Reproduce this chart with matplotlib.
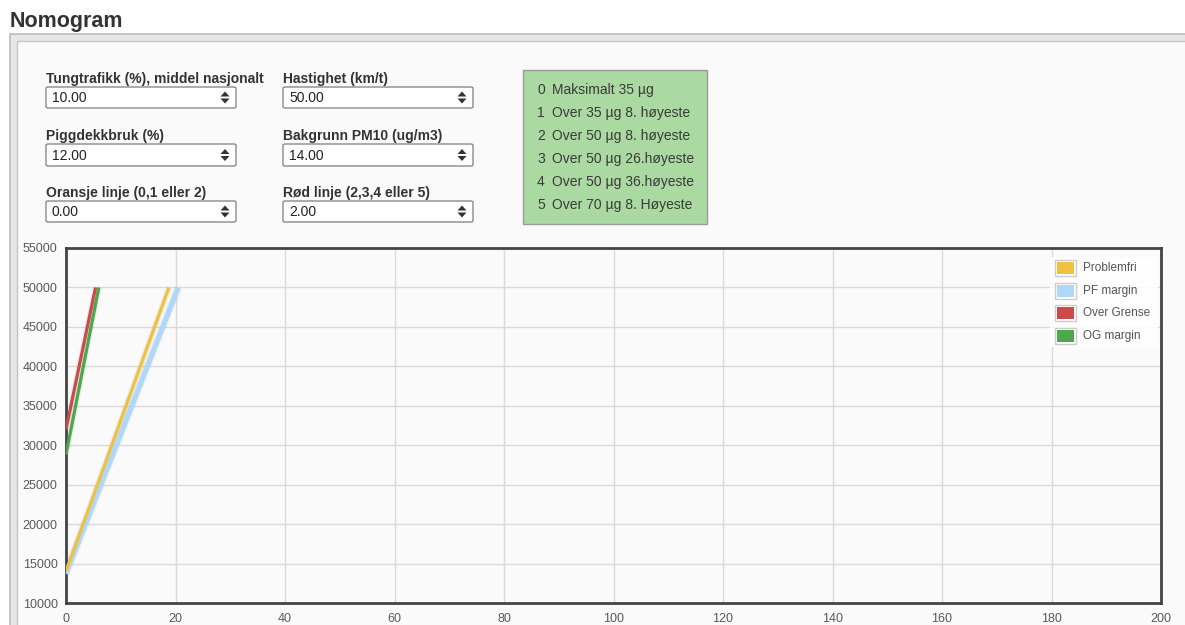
import matplotlib
matplotlib.use("Agg")
import matplotlib.pyplot as plt
from matplotlib.patches import Rectangle, FancyBboxPatch, Polygon

W, H = 1185, 625
plt.rcParams['font.family'] = ['Liberation Sans', 'DejaVu Sans']

# ---- data ----
series_names = ["Problemfri", "PF margin", "Over Grense", "OG margin"]
series_colors = ["#edc240", "#afd8f8", "#cb4b4b", "#4da74d"]
problemfri_x = [0, 18.8]
problemfri_y = [14000, 50000]
pfmargin_x = [0, 20.5]
pfmargin_y = [13700, 50000]
overgrense_x = [0, 5.4]
overgrense_y = [32000, 50000]
ogmargin_x = [0, 6.0]
ogmargin_y = [28800, 50000]
x_ticks = [0, 20, 40, 60, 80, 100, 120, 140, 160, 180, 200]
y_ticks = [10000, 15000, 20000, 25000, 30000, 35000, 40000, 45000, 50000, 55000]

field_labels = [["Tungtrafikk (%), middel nasjonalt", "Hastighet (km/t)"],
                ["Piggdekkbruk (%)", "Bakgrunn PM10 (ug/m3)"],
                ["Oransje linje (0,1 eller 2)", "Rød linje (2,3,4 eller 5)"]]
field_values = [["10.00", "50.00"], ["12.00", "14.00"], ["0.00", "2.00"]]
info_lines = ["Maksimalt 35 µg", "Over 35 µg 8. høyeste", "Over 50 µg 8. høyeste",
              "Over 50 µg 26.høyeste", "Over 50 µg 36.høyeste", "Over 70 µg 8. Høyeste"]

fig = plt.figure(figsize=(W / 100, H / 100), dpi=100)
fig.patch.set_facecolor("white")

def fx(px):
    return px / W

def fy(py):
    return 1 - py / H

def rect(x0, y0, x1, y1, **kw):
    r = Rectangle((fx(x0), fy(y1)), fx(x1) - fx(x0), fy(y0) - fy(y1),
                  transform=fig.transFigure, **kw)
    fig.add_artist(r)
    return r

# title
fig.text(fx(10), fy(21), "Nomogram", fontsize=15.5, fontweight="bold",
         color="#333333", va="center", ha="left")

# panel with double border (behind everything)
rect(10, 34, 1200, 640, facecolor="#e6e6e6", edgecolor="#bdbdbd", linewidth=1.2, zorder=-3)
rect(17, 41, 1200, 640, facecolor="#fafafa", edgecolor="#c4c4c4", linewidth=1.0, zorder=-2)

# form fields
col_x = [46, 283]
row_label_y = [79, 136, 193]
row_box = [(87, 108), (144, 166), (201, 222)]
box_w = 190
for r in range(3):
    for c in range(2):
        x0 = col_x[c]
        fig.text(fx(x0), fy(row_label_y[r]), field_labels[r][c], fontsize=10.0,
                 fontweight="bold", color="#333333", va="center", ha="left")
        y0, y1 = row_box[r]
        bb = FancyBboxPatch((fx(x0), fy(y1)), fx(x0 + box_w) - fx(x0), fy(y0) - fy(y1),
                            boxstyle="round,pad=0,rounding_size=0.002",
                            transform=fig.transFigure, facecolor="white",
                            edgecolor="#8a8a8a", linewidth=1.0)
        fig.add_artist(bb)
        yc = (y0 + y1) / 2
        fig.text(fx(x0 + 6), fy(yc + 0.5), field_values[r][c], fontsize=10,
                 color="#222222", va="center", ha="left")
        sx = x0 + box_w - 11
        up = Polygon([[fx(sx - 4.5), fy(yc - 1)], [fx(sx + 4.5), fy(yc - 1)], [fx(sx), fy(yc - 6)]],
                     closed=True, transform=fig.transFigure, facecolor="#333333", edgecolor="none")
        dn = Polygon([[fx(sx - 4.5), fy(yc + 1)], [fx(sx + 4.5), fy(yc + 1)], [fx(sx), fy(yc + 6)]],
                     closed=True, transform=fig.transFigure, facecolor="#333333", edgecolor="none")
        fig.add_artist(up)
        fig.add_artist(dn)

# info box
rect(523, 70, 707, 224, facecolor="#aad9a1", edgecolor="#9a9a9a", linewidth=1.0)
for i, line in enumerate(info_lines):
    yy = 90 + i * 23
    fig.text(fx(537), fy(yy), str(i), fontsize=10, color="#3a3a3a", va="center", ha="left")
    fig.text(fx(552), fy(yy), line, fontsize=10, color="#3a3a3a", va="center", ha="left")

# chart
ax_l, ax_t, ax_r, ax_b = 66, 248, 1161, 603
ax = fig.add_axes([fx(ax_l), fy(ax_b), fx(ax_r) - fx(ax_l), fy(ax_t) - fy(ax_b)])
ax.set_zorder(1)
ax.set_facecolor("#fafafa")
ax.set_xlim(0, 200)
ax.set_ylim(10000, 55000)
ax.set_xticks(x_ticks)
ax.set_yticks(y_ticks)
ax.set_xticklabels([str(t) for t in x_ticks])
ax.set_yticklabels([str(t) for t in y_ticks])
ax.grid(True, color="#dadada", linewidth=1.0)
ax.set_axisbelow(True)
ax.tick_params(axis="x", length=0, labelsize=9, labelcolor="#5a5a5a", pad=7)
ax.tick_params(axis="y", length=0, labelsize=9, labelcolor="#5a5a5a", pad=6)
for s in ax.spines.values():
    s.set_color("#444444")
    s.set_linewidth(2)

series = [(problemfri_x, problemfri_y), (pfmargin_x, pfmargin_y),
          (overgrense_x, overgrense_y), (ogmargin_x, ogmargin_y)]
widths = [2.3, 3.6, 2.3, 2.3]
order = [1, 0, 2, 3]
for i in order:
    xs, ys = series[i]
    ax.plot(xs, ys, color="#000000", alpha=0.05, linewidth=widths[i] + 2,
            solid_capstyle="butt", zorder=2)
for i in order:
    xs, ys = series[i]
    ax.plot(xs, ys, color=series_colors[i], linewidth=widths[i],
            solid_capstyle="butt", zorder=3)

# legend (flot style)
rect(1050, 257, 1158, 347, facecolor="white", edgecolor="none", alpha=0.85, zorder=5)
for i, (name, col) in enumerate(zip(series_names, series_colors)):
    yc = 268 + i * 22.7
    rect(1055, yc - 8, 1076, yc + 8, facecolor="white", edgecolor="#cccccc",
         linewidth=1.0, zorder=6)
    rect(1057, yc - 6, 1074, yc + 6, facecolor=col, edgecolor="none", zorder=7)
    fig.text(fx(1083), fy(yc), name, fontsize=8.5, color="#545454",
             va="center", ha="left", zorder=8)

fig.savefig("out.png", dpi=100)
